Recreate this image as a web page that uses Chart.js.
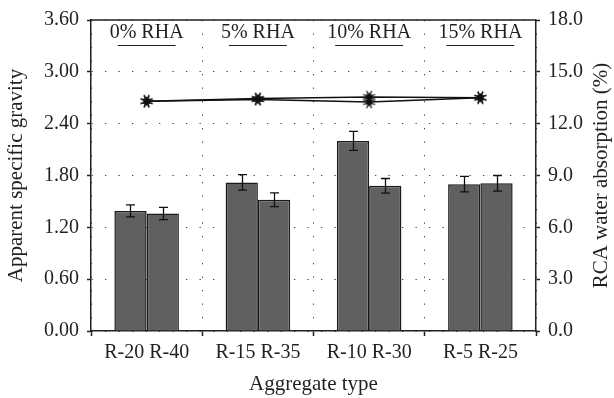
<!DOCTYPE html>
<html>
<head>
<meta charset="utf-8">
<script src="https://cdn.jsdelivr.net/npm/chart.js@4/dist/chart.umd.min.js"></script>
<style>
html,body{margin:0;padding:0;background:#fff;}
#wrap{width:614px;height:398px;position:relative;}
</style>
</head>
<body>
<div id="wrap"><canvas id="c" width="614" height="398"></canvas></div>
<script>
// ---- data ----
const categories = ['R-20 R-40', 'R-15 R-35', 'R-10 R-30', 'R-5 R-25'];
const rhaLabels = ['0% RHA', '5% RHA', '10% RHA', '15% RHA'];
const gravityFirst = [1.39, 1.72, 2.20, 1.70];   // R-20, R-15, R-10, R-5
const gravityFirstErr = [0.07, 0.09, 0.11, 0.09];
const gravitySecond = [1.36, 1.52, 1.68, 1.71];  // R-40, R-35, R-30, R-25
const gravitySecondErr = [0.07, 0.08, 0.085, 0.09];
const absorptionA = [13.3, 13.45, 13.55, 13.5];
const absorptionB = [13.3, 13.4, 13.25, 13.5];
const leftTicks = {min: 0, max: 3.6, step: 0.6};
const rightTicks = {min: 0, max: 18, step: 3};
const rightTitle = 'RCA water absorption (%)';

const FONT = "'Liberation Serif', 'Times New Roman', serif";
const TXT = '#231f20';

// star marker
function makeStar() {
  const c = document.createElement('canvas');
  c.width = 15; c.height = 15;
  const g = c.getContext('2d');
  const cx = 7.5, cy = 7.5, r = 4.6;
  g.fillStyle = '#111';
  for (const rot of [-Math.PI / 2, Math.PI / 2]) {
    g.beginPath();
    for (let k = 0; k < 3; k++) {
      const a = rot + k * 2 * Math.PI / 3;
      const px = cx + r * Math.cos(a), py = cy + r * Math.sin(a);
      if (k === 0) g.moveTo(px, py); else g.lineTo(px, py);
    }
    g.closePath();
    g.fill();
  }
  g.strokeStyle = '#111';
  g.lineWidth = 1.3;
  for (let k = 0; k < 4; k++) {
    const a = k * Math.PI / 4 + Math.PI / 8;
    g.beginPath();
    g.moveTo(cx - 6.5 * Math.cos(a), cy - 6.5 * Math.sin(a));
    g.lineTo(cx + 6.5 * Math.cos(a), cy + 6.5 * Math.sin(a));
    g.stroke();
  }
  return c;
}
const star = makeStar();

const errByDataset = {2: gravityFirstErr, 3: gravitySecondErr};

const errorBars = {
  id: 'errorBars',
  afterDatasetsDraw(chart) {
    const ctx = chart.ctx;
    const ys = chart.scales.y;
    ctx.save();
    ctx.strokeStyle = '#111';
    ctx.lineWidth = 1.3;
    Object.keys(errByDataset).forEach(k => {
      const di = Number(k);
      const meta = chart.getDatasetMeta(di);
      const vals = chart.data.datasets[di].data;
      meta.data.forEach((el, j) => {
        const e = errByDataset[di][j];
        const x = Math.round(el.x) + 0.5;
        const y1 = ys.getPixelForValue(vals[j] + e);
        const y2 = ys.getPixelForValue(vals[j] - e);
        ctx.beginPath();
        ctx.moveTo(x, y1); ctx.lineTo(x, y2);
        ctx.moveTo(x - 4.5, y1); ctx.lineTo(x + 4.5, y1);
        ctx.moveTo(x - 4.5, y2); ctx.lineTo(x + 4.5, y2);
        ctx.stroke();
      });
    });
    ctx.restore();
  }
};

const frameAndLabels = {
  id: 'frameAndLabels',
  afterDraw(chart) {
    const ctx = chart.ctx;
    const a = chart.chartArea;
    const xs = chart.scales.x;
    ctx.save();
    ctx.strokeStyle = '#231f20';
    ctx.lineWidth = 1.5;
    ctx.beginPath();
    ctx.moveTo(a.left, a.top); ctx.lineTo(a.right, a.top);
    ctx.stroke();
    ctx.font = '20px ' + FONT;
    ctx.fillStyle = TXT;
    ctx.textAlign = 'center';
    ctx.textBaseline = 'middle';
    ctx.lineWidth = 1;
    rhaLabels.forEach((t, i) => {
      const cx = xs.getPixelForValue(i);
      ctx.fillText(t, cx, a.top + 13);
      const w = ctx.measureText(t).width;
      ctx.beginPath();
      ctx.moveTo(cx - w / 2 + 8, a.top + 25.5);
      ctx.lineTo(cx + w / 2 - 8, a.top + 25.5);
      ctx.stroke();
    });
    // right axis title, reading bottom to top
    ctx.save();
    ctx.translate(601, (a.top + a.bottom) / 2);
    ctx.rotate(-Math.PI / 2);
    ctx.font = '21px ' + FONT;
    ctx.fillText(rightTitle, 0, 0);
    ctx.restore();
    ctx.restore();
  }
};

new Chart(document.getElementById('c'), {
  data: {
    labels: categories,
    datasets: [
      {type: 'line', data: absorptionA, yAxisID: 'y2', borderColor: '#111', borderWidth: 1.5,
       pointStyle: star, pointRadius: 6, tension: 0, order: 0},
      {type: 'line', data: absorptionB, yAxisID: 'y2', borderColor: '#111', borderWidth: 1.5,
       pointStyle: star, pointRadius: 6, tension: 0, order: 0},
      {type: 'bar', data: gravityFirst, yAxisID: 'y', backgroundColor: '#606060', borderColor: '#1a1a1a',
       borderWidth: 1.5, categoryPercentage: 0.58, barPercentage: 1.0, order: 2},
      {type: 'bar', data: gravitySecond, yAxisID: 'y', backgroundColor: '#606060', borderColor: '#1a1a1a',
       borderWidth: 1.5, categoryPercentage: 0.58, barPercentage: 1.0, order: 2}
    ]
  },
  options: {
    responsive: false,
    animation: false,
    devicePixelRatio: 1,
    layout: {padding: {top: 20, left: 0, right: 0, bottom: 0}},
    plugins: {legend: {display: false}, tooltip: {enabled: false}},
    scales: {
      x: {
        type: 'category',
        offset: true,
        grid: {offset: true, color: '#444', lineWidth: 1, tickLength: 5, tickColor: '#231f20',
               tickBorderDash: [], tickWidth: 1.5},
        border: {display: true, color: '#231f20', width: 1.5, dash: [1.3, 12.2]},
        ticks: {color: TXT, font: {family: FONT, size: 20}, padding: 5, maxRotation: 0, autoSkip: false},
        title: {display: true, text: 'Aggregate type', color: TXT, font: {family: FONT, size: 21},
                padding: {top: 0, bottom: 1}},
        afterFit: s => { s.height = 67; }
      },
      y: {
        position: 'left',
        min: leftTicks.min, max: leftTicks.max,
        grid: {color: '#444', lineWidth: 1, tickLength: 4, tickColor: '#231f20', tickBorderDash: [], tickWidth: 1.5},
        border: {display: true, color: '#231f20', width: 1.5, dash: [1.3, 12.2]},
        ticks: {stepSize: leftTicks.step, color: TXT, font: {family: FONT, size: 20}, padding: 8,
                callback: v => Number(v).toFixed(2)},
        title: {display: true, text: 'Apparent specific gravity', color: TXT, font: {family: FONT, size: 21},
                padding: {top: 4, bottom: 0}},
        afterFit: s => { s.width = 91; }
      },
      y2: {
        position: 'right',
        min: rightTicks.min, max: rightTicks.max,
        grid: {drawOnChartArea: false, tickLength: 4, tickColor: '#231f20', tickWidth: 1.5},
        border: {display: true, color: '#231f20', width: 1.5},
        ticks: {stepSize: rightTicks.step, color: TXT, font: {family: FONT, size: 20}, padding: 8,
                callback: v => Number(v).toFixed(1)},
        title: {display: false},
        afterFit: s => { s.width = 78; }
      }
    }
  },
  plugins: [errorBars, frameAndLabels]
});
</script>
</body>
</html>
